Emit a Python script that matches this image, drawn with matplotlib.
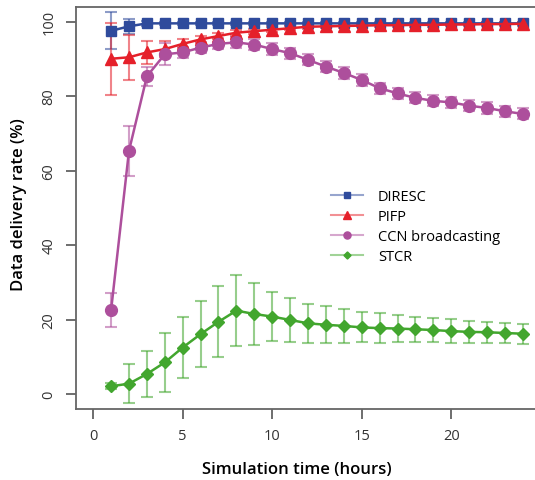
import numpy as np
import matplotlib.pyplot as plt
from matplotlib.colors import to_rgba

plt.rcParams['font.family'] = ['Open Sans', 'DejaVu Sans']

hours = list(range(1, 25))

diresc = [97.5, 98.7, 99.5, 99.5, 99.5, 99.5, 99.5, 99.5, 99.5, 99.5, 99.5, 99.5,
          99.5, 99.5, 99.5, 99.5, 99.5, 99.5, 99.5, 99.5, 99.5, 99.5, 99.5, 99.5]
diresc_err = [5.0, 2.0, 0.6, 0.5, 0.5, 0.5, 0.5, 0.5, 0.5, 0.5, 0.5, 0.5,
              0.5, 0.5, 0.5, 0.5, 0.5, 0.5, 0.5, 0.5, 0.5, 0.5, 0.5, 0.5]

pifp = [90.0, 90.4, 91.7, 92.6, 94.0, 95.2, 96.1, 97.0, 97.4, 97.8, 98.2, 98.6,
        98.7, 98.8, 98.9, 99.0, 99.0, 99.1, 99.1, 99.2, 99.2, 99.3, 99.3, 99.4]
pifp_err = [9.6, 6.0, 3.0, 2.2, 1.2, 1.0, 0.9, 0.8, 0.7, 0.6, 0.6, 0.5,
            0.5, 0.5, 0.5, 0.5, 0.5, 0.5, 0.5, 0.5, 0.5, 0.5, 0.5, 0.5]

ccn = [22.5, 65.3, 85.3, 91.2, 91.7, 93.0, 94.0, 94.4, 93.8, 92.6, 91.5, 89.7,
       87.9, 86.2, 84.3, 82.1, 80.7, 79.5, 78.7, 78.3, 77.4, 76.8, 75.9, 75.2]
ccn_err = [4.5, 6.7, 2.5, 3.0, 1.5, 1.5, 1.5, 1.5, 1.5, 1.5, 1.5, 1.5,
           1.5, 1.5, 1.5, 1.5, 1.5, 1.5, 1.5, 1.5, 1.5, 1.5, 1.5, 1.5]

stcr = [2.1, 2.8, 5.4, 8.5, 12.5, 16.1, 19.4, 22.4, 21.5, 20.8, 19.9, 19.0,
        18.6, 18.3, 17.9, 17.7, 17.6, 17.4, 17.2, 16.9, 16.7, 16.6, 16.4, 16.2]
stcr_err = [0.8, 5.3, 6.2, 8.0, 8.3, 8.9, 9.5, 9.5, 8.3, 6.5, 6.0, 5.2,
            5.0, 4.5, 4.0, 4.0, 3.6, 3.4, 3.2, 3.2, 3.0, 2.8, 2.7, 2.7]

series = [
    ("DIRESC", diresc, diresc_err, '#2f4b9c', 's', 7.5),
    ("PIFP", pifp, pifp_err, '#e5202a', '^', 9),
    ("CCN broadcasting", ccn, ccn_err, '#ad4f9c', 'o', 8.5),
    ("STCR", stcr, stcr_err, '#42a62e', 'D', 6),
]

fig = plt.figure(figsize=(5.35, 4.81), dpi=100)
ax = fig.add_axes([76 / 535, 71 / 481, 464 / 535, 402.4 / 481])

for name, vals, err, col, mk, ms in series:
    ax.errorbar(hours, vals, yerr=err, fmt='none', ecolor=col, alpha=0.55,
                elinewidth=1.5, capsize=4, capthick=1.5, zorder=2)
    ax.plot(hours, vals, color=col, lw=1.8, marker=mk, ms=ms, zorder=3)

# legend: pale line, solid marker
handles = []
for name, vals, err, col, mk, ms in series:
    r, g, b, _ = to_rgba(col)
    pale = (1 - 0.5 * (1 - r), 1 - 0.5 * (1 - g), 1 - 0.5 * (1 - b))
    h, = ax.plot([], [], color=pale, lw=1.5, marker=mk, ms=ms * 0.6,
                 markerfacecolor=col, markeredgecolor=col, label=name)
    handles.append(h)
ax.legend(handles=handles, loc='upper left', bbox_to_anchor=(0.522, 0.58),
          frameon=False, fontsize=10.5, handlelength=2.2, labelspacing=0.35,
          handletextpad=1.0)

ax.set_xlim(-0.96, 24.96)
ax.set_ylim(-4, 104)
ax.set_xticks([0, 5, 10, 15, 20])
ax.set_yticks([0, 20, 40, 60, 80, 100])
for lbl in ax.get_yticklabels():
    lbl.set_rotation(90)
    lbl.set_va('center')
ax.tick_params(length=7, width=1.2, color='#555555', labelsize=10.5,
               labelcolor='#333333', pad=7)
for s in ax.spines.values():
    s.set_color('#666666')
    s.set_linewidth(1.3)

ax.set_xlabel('Simulation time (hours)', fontsize=12, fontweight='semibold')
ax.set_ylabel('Data delivery rate (%)', fontsize=12, fontweight='semibold')
ax.xaxis.set_label_coords(0.476, -0.13)
ax.yaxis.set_label_coords(-0.105, 0.51)

fig.savefig('out.png', dpi=100)
